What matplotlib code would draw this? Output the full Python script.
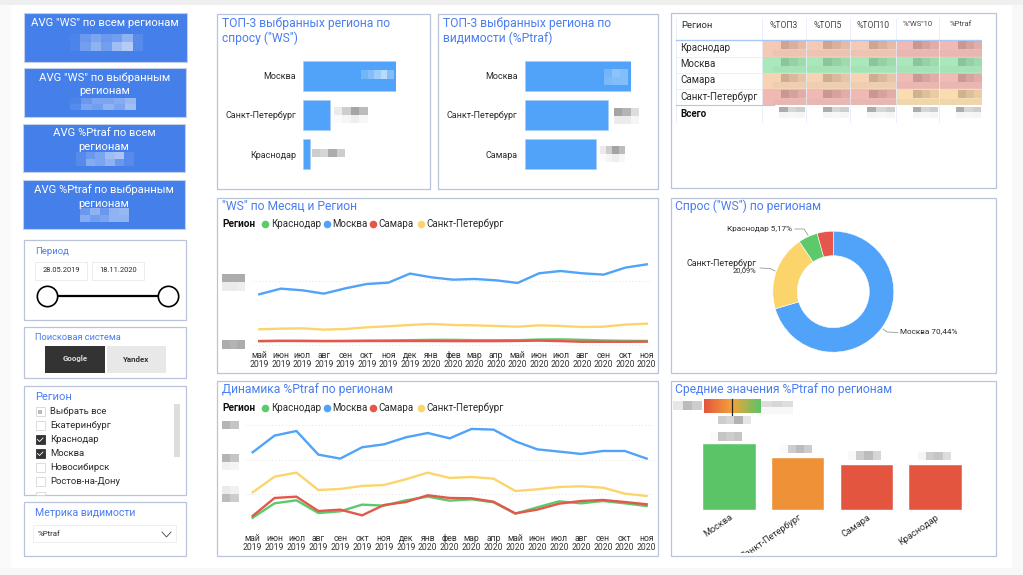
#!/usr/bin/env python3
"""Dashboard with KPI cards, filters, bars, table, lines and a donut, laid out in pixels."""
import numpy as np
import matplotlib

matplotlib.use("Agg")
import matplotlib.pyplot as plt
from matplotlib.colors import LinearSegmentedColormap
from matplotlib.patches import Rectangle

W, H = 1023, 575
plt.rcParams["font.family"] = ["Roboto", "DejaVu Sans"]

BLUE, GREEN, RED, YELLOW = "#50a3f8", "#5cc96a", "#e4574a", "#fbd56c"
TITLE, BORDER, CARD, INK = "#4a7df0", "#b9c3da", "#447fea", "#2b2b2b"
TITLE_SIZE = 8.7

kpi_titles = ['AVG "WS" по всем регионам', 'AVG "WS" по выбранным\nрегионам',
              'AVG %Ptraf по всем\nрегионам', 'AVG %Ptraf по выбранным\nрегионам']
region_items = ["Выбрать все", "Екатеринбург", "Краснодар", "Москва", "Новосибирск", "Ростов-на-Дону"]
region_state = ["some", "off", "on", "on", "off", "off"]

demand_regions = ["Москва", "Санкт-Петербург", "Краснодар"]
demand_values = [100, 28.5, 7.5]
visibility_regions = ["Москва", "Санкт-Петербург", "Самара"]
visibility_values = [100, 78.5, 67.5]

table_columns = ["%ТОП3", "%ТОП5", "%ТОП10", '%"WS"10', "%Ptraf"]
table_rows = ["Краснодар", "Москва", "Самара", "Санкт-Петербург"]
table_colors = [["#f5c9b5"] * 3 + ["#f0b9b5"] * 2,
                ["#a9e8ba"] * 5,
                ["#f7d3b4"] * 3 + ["#f1bab5"] * 2,
                ["#f0b9b4"] * 3 + ["#f9dcb0"] * 2]

months = ["май\n2019", "июн\n2019", "июл\n2019", "авг\n2019", "сен\n2019", "окт\n2019", "ноя\n2019",
          "дек\n2019", "янв\n2020", "фев\n2020", "мар\n2020", "апр\n2020", "май\n2020", "июн\n2020",
          "июл\n2020", "авг\n2020", "сен\n2020", "окт\n2020", "ноя\n2020"]
ws_moscow = [79.2, 88, 85.4, 80.2, 88.5, 95.3, 97.4, 111.5, 105.7, 102, 103.1, 101, 96.9, 112, 115.6, 112, 109.9, 120.8, 126]
ws_spb = [24.5, 25.5, 26, 24, 25, 27.6, 29.2, 31.3, 32.8, 31.3, 30.7, 29.7, 28.6, 30.7, 29.7, 28.1, 28.6, 31.8, 33.3]
ws_krasnodar = [6.2, 6.5, 6.5, 6.3, 6.5, 6.8, 7, 7.5, 8, 8, 7.5, 7.5, 7.5, 8.5, 8.8, 8, 7, 6.5, 6.3]
ws_samara = [6, 6.3, 6.2, 6, 6, 6.2, 6.2, 6.2, 6.2, 6, 6, 6, 6.3, 6.8, 6, 5, 5, 5, 5.2]

ptraf_moscow = [11.07, 13.5, 14.17, 10.73, 10.15, 11.8, 12.23, 13.25, 13.88, 13.1, 14.47, 14.37, 12.67, 11.5, 11.17, 10.83, 11.26, 11.26, 10.15]
ptraf_spb = [5.24, 7.52, 8.11, 5.58, 5.73, 6.17, 6.31, 7.14, 8.11, 7.33, 7.48, 7.23, 5.44, 5.68, 6.02, 6.12, 5.92, 5.05, 4.71]
ptraf_krasnodar = [1.55, 3.64, 4.08, 2.23, 2.48, 3.45, 3.3, 4.08, 4.61, 4.03, 4.22, 3.79, 2.14, 3.06, 3.93, 3.64, 3.98, 3.64, 3.25]
ptraf_samara = [1.8, 4.42, 4.61, 2.52, 2.72, 1.89, 3.4, 3.83, 4.81, 4.42, 4.37, 3.88, 2.18, 2.72, 3.59, 3.98, 4.13, 3.83, 3.5]

share_labels = ["Москва", "Санкт-Петербург", "Краснодар", "Самара"]
share_values = [70.44, 20.09, 5.17, 4.30]

avg_regions = ["Москва", "Санкт-Петербург", "Самара", "Краснодар"]
avg_values = [13.1, 10.35, 8.9, 8.9]
avg_colors = ["#5ac467", "#ee9137", "#e4553f", "#e4553f"]

# alpha blocks for the pixelated (hidden) numbers
MOSAIC_A = [[.12, .3, .55, .4], [.02, .06, .1, .05]]
MOSAIC_C = [[.3, .25, .5, .3]]
MOSAIC_D = [[.55, .45, .2], [.12, .12, .06]]

fig = plt.figure(figsize=(W / 100, H / 100), dpi=100, facecolor="white")


def sub(x0, y0, x1, y1, **kw):
    return fig.add_axes([x0 / W, 1 - y1 / H, (x1 - x0) / W, (y1 - y0) / H], **kw)


def pixel_axes(zorder):
    ax = sub(0, 0, W, H)
    ax.set_xlim(0, W); ax.set_ylim(H, 0); ax.axis("off"); ax.set_zorder(zorder)
    return ax


page = pixel_axes(0)
top = pixel_axes(10)


def box(x0, y0, x1, y1, fc="white", ec=BORDER, lw=0.9, ax=page, z=1):
    ax.add_patch(Rectangle((x0, y0), x1 - x0, y1 - y0, fc=fc, ec=ec, lw=lw, zorder=z))


def label(x, y, s, size=6.5, color=INK, ha="left", va="center", ax=page, **kw):
    return ax.text(x, y, s, fontsize=size, color=color, ha=ha, va=va, zorder=5, **kw)


def mosaic(x0, y0, x1, y1, blocks, tone=(0.35, 0.35, 0.35)):
    a = np.array(blocks, dtype=float)
    img = np.zeros(a.shape + (4,))
    img[..., :3] = tone
    img[..., 3] = a
    top.imshow(img, extent=(x0, x1, y1, y0), aspect="auto", interpolation="nearest", zorder=6)
    top.set_xlim(0, W); top.set_ylim(H, 0)


# page card and its soft shadow
page.add_patch(Rectangle((0, 0), W, 5, fc="#efefef", ec="none", zorder=0))
page.add_patch(Rectangle((1012, 5), 11, H - 5, fc="#f8f8f8", ec="none", zorder=0))
page.add_patch(Rectangle((0, 5), 11, H - 5, fc="#fafafa", ec="none", zorder=0))
page.add_patch(Rectangle((0, 568), W, 7, fc="#f7f7f7", ec="none", zorder=0))

# KPI cards
kpi_boxes = [(23.5, 13, 186.5, 62), (24, 68, 186, 117), (23, 124, 185, 172), (23, 180, 185, 229)]
for (x0, y0, x1, y1), t in zip(kpi_boxes, kpi_titles):
    box(x0, y0, x1, y1, fc=CARD, ec="#c4d0e8", lw=0.8)
    label((x0 + x1) / 2, y0 + 4.5, t, size=8.1, color="white", ha="center", va="top", linespacing=1.42)
white = (1, 1, 1)
mosaic(70, 34, 143, 51, [[.05, .2, .3, .2, .25, .4, .1], [.05, .25, .4, .25, .5, .6, .1]], white)
mosaic(70, 98, 136, 110, [[.05, .2, .3, .3, .35, .45], [.1, .3, .25, .4, .3, .5]], white)
mosaic(76, 152, 134, 166, [[.1, .2, .3, .5, .55, .1], [.1, .35, .3, .4, .2, .1]], white)
mosaic(80, 208, 129, 222, [[.2, .4, .2, .4, .45], [.35, .25, .3, .4, .4]], white)

# period filter
box(23.5, 240, 185.5, 320)
label(35, 251.5, "Период", size=6.8, color=TITLE)
for x0, x1, s in [(35, 87, "28.05.2019"), (92, 144, "18.11.2020")]:
    box(x0, 262, x1, 280, ec="#ececec", lw=0.7)
    label((x0 + x1) / 2, 271, s, size=5.4, ha="center")
page.plot([47, 168], [296, 296], color="black", lw=1.6, zorder=3)
page.scatter([47, 168], [296, 296], s=215, fc="white", ec="black", lw=1.2, zorder=4)

# search engine filter
box(23.5, 326.5, 186, 378)
label(35, 337.5, "Поисковая система", size=6.7, color=TITLE)
box(45, 346, 105, 373, fc="#333333", ec="none")
box(107, 346, 166, 373, fc="#e8e8e8", ec="none")
label(75, 359, "Google", size=5.7, color="#dddddd", ha="center", fontweight="bold")
label(136, 359, "Yandex", size=5.7, color="#333333", ha="center", fontweight="bold")

# region filter
box(23.5, 386, 185.5, 495)
label(35, 397, "Регион", size=8, color=TITLE)
box(174, 404, 180, 457, fc="#dddddd", ec="none")
for i, (s, state) in enumerate(zip(region_items, region_state)):
    y = 411.5 + i * 14
    on = state == "on"
    box(35.5, y - 4.5, 44.5, y + 4.5, fc="#333333" if on else "white", ec="#333333" if on else "#d6d6d6", lw=0.6)
    if on:
        page.plot([37.5, 39.5, 43], [y, y + 2, y - 1.5], color="white", lw=0.6, zorder=3)
    if state == "some":
        box(38, y - 2, 42, y + 2, fc="#bbbbbb", ec="none", z=3)
    label(50.5, y - 0.5, s, size=6.8)
box(35.5, 492, 44.5, 494.5, fc="white", ec="#d6d6d6", lw=0.6)

# metric dropdown
box(23.5, 502, 185.5, 556)
label(35, 513.5, "Метрика видимости", size=7.6, color=TITLE)
box(33, 525, 176, 542, ec="#efefef", lw=0.7)
label(38, 533.5, "%Ptraf", size=5.7)
page.plot([162, 166.5, 171], [532, 537, 532], color="#444444", lw=0.6, zorder=3)

# top-3 horizontal bars
box(216.5, 14, 429.5, 189)
box(438, 14, 658, 189)
label(222, 23.5, "ТОП-3 выбранных региона по", size=TITLE_SIZE, color=TITLE)
label(222, 38, 'спросу ("WS")', size=TITLE_SIZE, color=TITLE)
label(443, 23.5, "ТОП-3 выбранных региона по", size=TITLE_SIZE, color=TITLE)
label(443, 38, "видимости (%Ptraf)", size=TITLE_SIZE, color=TITLE)
for x0, x1, names, vals in [(303, 396, demand_regions, demand_values),
                            (524.5, 631, visibility_regions, visibility_values)]:
    ax = sub(x0, 56, x1, 174)
    ax.patch.set_alpha(0)
    ax.barh(names, vals, height=0.765, color=BLUE, edgecolor="#a6cff8", lw=0.5)
    ax.set_xlim(0, 100); ax.set_ylim(2.5, -0.5)
    ax.tick_params(length=0, pad=5, labelsize=6.5, labelcolor=INK, bottom=False, labelbottom=False)
    for s in ax.spines.values():
        s.set_visible(False)
mosaic(361, 70, 394, 79, [[.2, .3, .45, .6, .3]], white)
mosaic(334, 107, 368, 123, MOSAIC_A)
mosaic(312, 149, 345, 157, MOSAIC_C)
mosaic(604, 69, 628, 85, [[.2, .35, .3], [.25, .3, .3]], white)
mosaic(614, 108, 639, 124, MOSAIC_D)
mosaic(600, 146, 625, 162, MOSAIC_A)

# region table
box(670.5, 13, 995.5, 188)
col_x = [762, 806, 850, 896, 939, 982]
row_y = [40, 56.5, 72.5, 89, 105, 122]
label(681, 26, "Регион", size=6.8)
for i, c in enumerate(table_columns):
    label((col_x[i] + col_x[i + 1]) / 2, 25.5 if i < 3 else 24.5, c, size=6.2 if i < 3 else 5.5, ha="center", color="#444444")
for x in [676] + col_x[:-1]:
    page.plot([x, x], [18, 122], color="#e6eefb", lw=0.6, zorder=2)
for r, (name, colors) in enumerate(zip(table_rows, table_colors)):
    y0, y1 = row_y[r], row_y[r + 1]
    label(680, (y0 + y1) / 2 - 0.5, name, size=7)
    page.plot([676, 762], [y1, y1], color="#ececec", lw=0.6, zorder=2)
    for c, color in enumerate(colors):
        box(col_x[c], y0, col_x[c + 1], y1, fc=color, ec="none")
        mosaic(col_x[c] + 19 if c % 2 == 0 else col_x[c] + 17, y0 + 2, col_x[c + 1], y0 + 9.5,
               [[.26, .18, .1]], (.35, .25, .2) if r != 1 else (.2, .4, .25))
    # lighter hidden strip under the numbers, across the row
    mosaic(773, y0 + 10, 982, y0 + 16, [[.1]], (.6, .65, .6))
page.plot([676, 980], [40, 40], color="#a9c8f2", lw=1.0, zorder=4)
page.plot([676, 774], [105, 105], color="#a9c8f2", lw=0.8, zorder=4)
label(680, 114, "Всего", size=7, fontweight="bold", color="#111111")
for c in range(5):
    mosaic(col_x[c] + 17, 107, col_x[c + 1] - 1, 118, [[.5, .25, .3], [.06, .05, .06]])

# line charts
line_series = [(BLUE, ws_moscow, ptraf_moscow), (YELLOW, ws_spb, ptraf_spb),
               (GREEN, ws_krasnodar, ptraf_krasnodar), (RED, ws_samara, ptraf_samara)]


def legend(y):
    label(222, y, "Регион", size=7.2, fontweight="bold", color="#111111")
    entries = [(265, 270.7, GREEN, "Краснодар"), (326.7, 332, BLUE, "Москва"),
               (373.3, 378.7, RED, "Самара"), (420.7, 426, YELLOW, "Санкт-Петербург")]
    for dot, tx, color, s in entries:
        page.scatter([dot], [y], s=30, color=color, lw=0, zorder=4)
        label(tx, y, s, size=7)


box(216.5, 198, 658, 372.5)
label(222, 206.5, '"WS" по Месяц и Регион', size=TITLE_SIZE, color=TITLE)
legend(224)
box(216.5, 381, 658, 556)
label(222, 390, "Динамика %Ptraf по регионам", size=TITLE_SIZE, color=TITLE)
legend(408)

chart_specs = [
    dict(idx=1, box=(251.7, 240, 651.7, 351), xlim=(-0.353, 18.23), ylim=(-9.4, 164), ticks=[0, 100], pad=11.5),
    dict(idx=2, box=(245, 420, 655, 533), xlim=(-0.35, 18.38), ylim=(-0.68, 15.77), ticks=[5, 10, 15], pad=12.2),
]
x_pos = np.arange(len(months))
for spec in chart_specs:
    ax = sub(*spec["box"])
    ax.patch.set_alpha(0)
    for color, *vals in line_series:
        ax.plot(x_pos, vals[spec["idx"] - 1], color=color, lw=1.7, solid_joinstyle="round", zorder=3)
    ax.set_xlim(*spec["xlim"]); ax.set_ylim(*spec["ylim"])
    ax.set_xticks(x_pos, months, fontsize=6.2, color="#333333", linespacing=1.05)
    ax.set_yticks(spec["ticks"], [""] * len(spec["ticks"]))
    ax.tick_params(length=0)
    ax.tick_params(axis="x", pad=spec["pad"])
    for t in ax.get_xticklabels():
        t.set_verticalalignment("baseline")  # keeps "фев" level with the other months
    ax.grid(axis="y", color="#d9d9d9", lw=0.6, ls=(0, (1, 3)))
    for s in ax.spines.values():
        s.set_visible(False)
mosaic(222, 274, 245, 291, [[.5, .5, .5], [.12, .12, .1]])
mosaic(222, 340, 245, 349, [[.5, .45, .5]])
mosaic(222, 421, 239, 429, [[.45, .35]])
mosaic(222, 454, 239, 470, [[.45, .35], [.08, .06]])
mosaic(222, 486, 239, 502, [[.12, .08], [.4, .3]])

# donut
box(670.5, 198, 995.5, 373)
label(675, 206.5, 'Спрос ("WS") по регионам', size=TITLE_SIZE, color=TITLE)
ax = sub(833.3 - 60.5, 291.7 - 60.5, 833.3 + 60.5, 291.7 + 60.5)
ax.pie(share_values, colors=[BLUE, YELLOW, GREEN, RED], startangle=90, counterclock=False, radius=1,
       wedgeprops=dict(width=0.405, edgecolor="white", lw=0.4))
ax.set_xlim(-1, 1); ax.set_ylim(-1, 1)
label(900, 331, f"{share_labels[0]} {share_values[0]:.2f}%".replace(".", ","), size=5.9)
label(756.7, 263, share_labels[1], size=6.4, ha="right")
label(756.7, 271, f"{share_values[1]:.2f}%".replace(".", ","), size=5.4, ha="right")
label(792, 228.7, f"{share_labels[2]} {share_values[2]:.2f}%".replace(".", ","), size=5.9, ha="right")
for xs, ys in [([883, 887, 898], [329, 332, 332.5]), ([760, 770, 775], [268, 268.5, 271]),
               ([795, 804, 808], [229, 229, 235])]:
    page.plot(xs, ys, color="#999999", lw=0.6, zorder=3)

# gauge and average bars
box(670.5, 381, 995.5, 556)
label(675, 390, "Средние значения %Ptraf по регионам", size=TITLE_SIZE, color=TITLE)
gauge = sub(704.3, 399, 761, 413)
gauge.imshow(np.linspace(0, 1, 200)[None, :], aspect="auto",
             cmap=LinearSegmentedColormap.from_list("g", ["#e4553f", "#f2a33a", "#5ac467"]))
gauge.axis("off")
top.plot([732.3, 732.3], [399, 415.3], color="#222222", lw=0.9, zorder=7)
mosaic(673, 401, 702, 410, [[.15, .4, .3]])
mosaic(761, 401, 793, 414, [[.2, .25, .2], [.05, .05, .05]])
mosaic(718, 416, 751, 424, [[.3, .25, .45, .15]])

ax = sub(695, 444.3, 970, 509.7)
ax.patch.set_alpha(0)
ax.bar(range(len(avg_values)), avg_values, width=0.767, color=avg_colors, edgecolor="white", lw=0.3)
ax.set_xlim(-0.5, 3.5); ax.set_ylim(0, 13.1)
ax.set_xticks(range(len(avg_regions)), avg_regions, fontsize=6.6, color=INK, rotation=35,
              ha="right", rotation_mode="anchor")
ax.set_yticks([])
ax.tick_params(length=0, pad=2)
clip = Rectangle((671, 381), 324, 172, transform=page.transData)
for t in ax.get_xticklabels():
    t.set_clip_path(clip)
    t.set_clip_on(True)
for s in ax.spines.values():
    s.set_visible(False)
mosaic(710, 432, 742, 441, [[.03, .35, .3, .35]])
mosaic(780, 445, 812, 453, [[.03, .3, .4, .3]])
mosaic(848, 451, 881, 460, [[.04, .3, .4, .25]])
mosaic(918, 452, 951, 460, [[.06, .3, .35, .2]])

fig.savefig("out.png", dpi=100, facecolor="white")
